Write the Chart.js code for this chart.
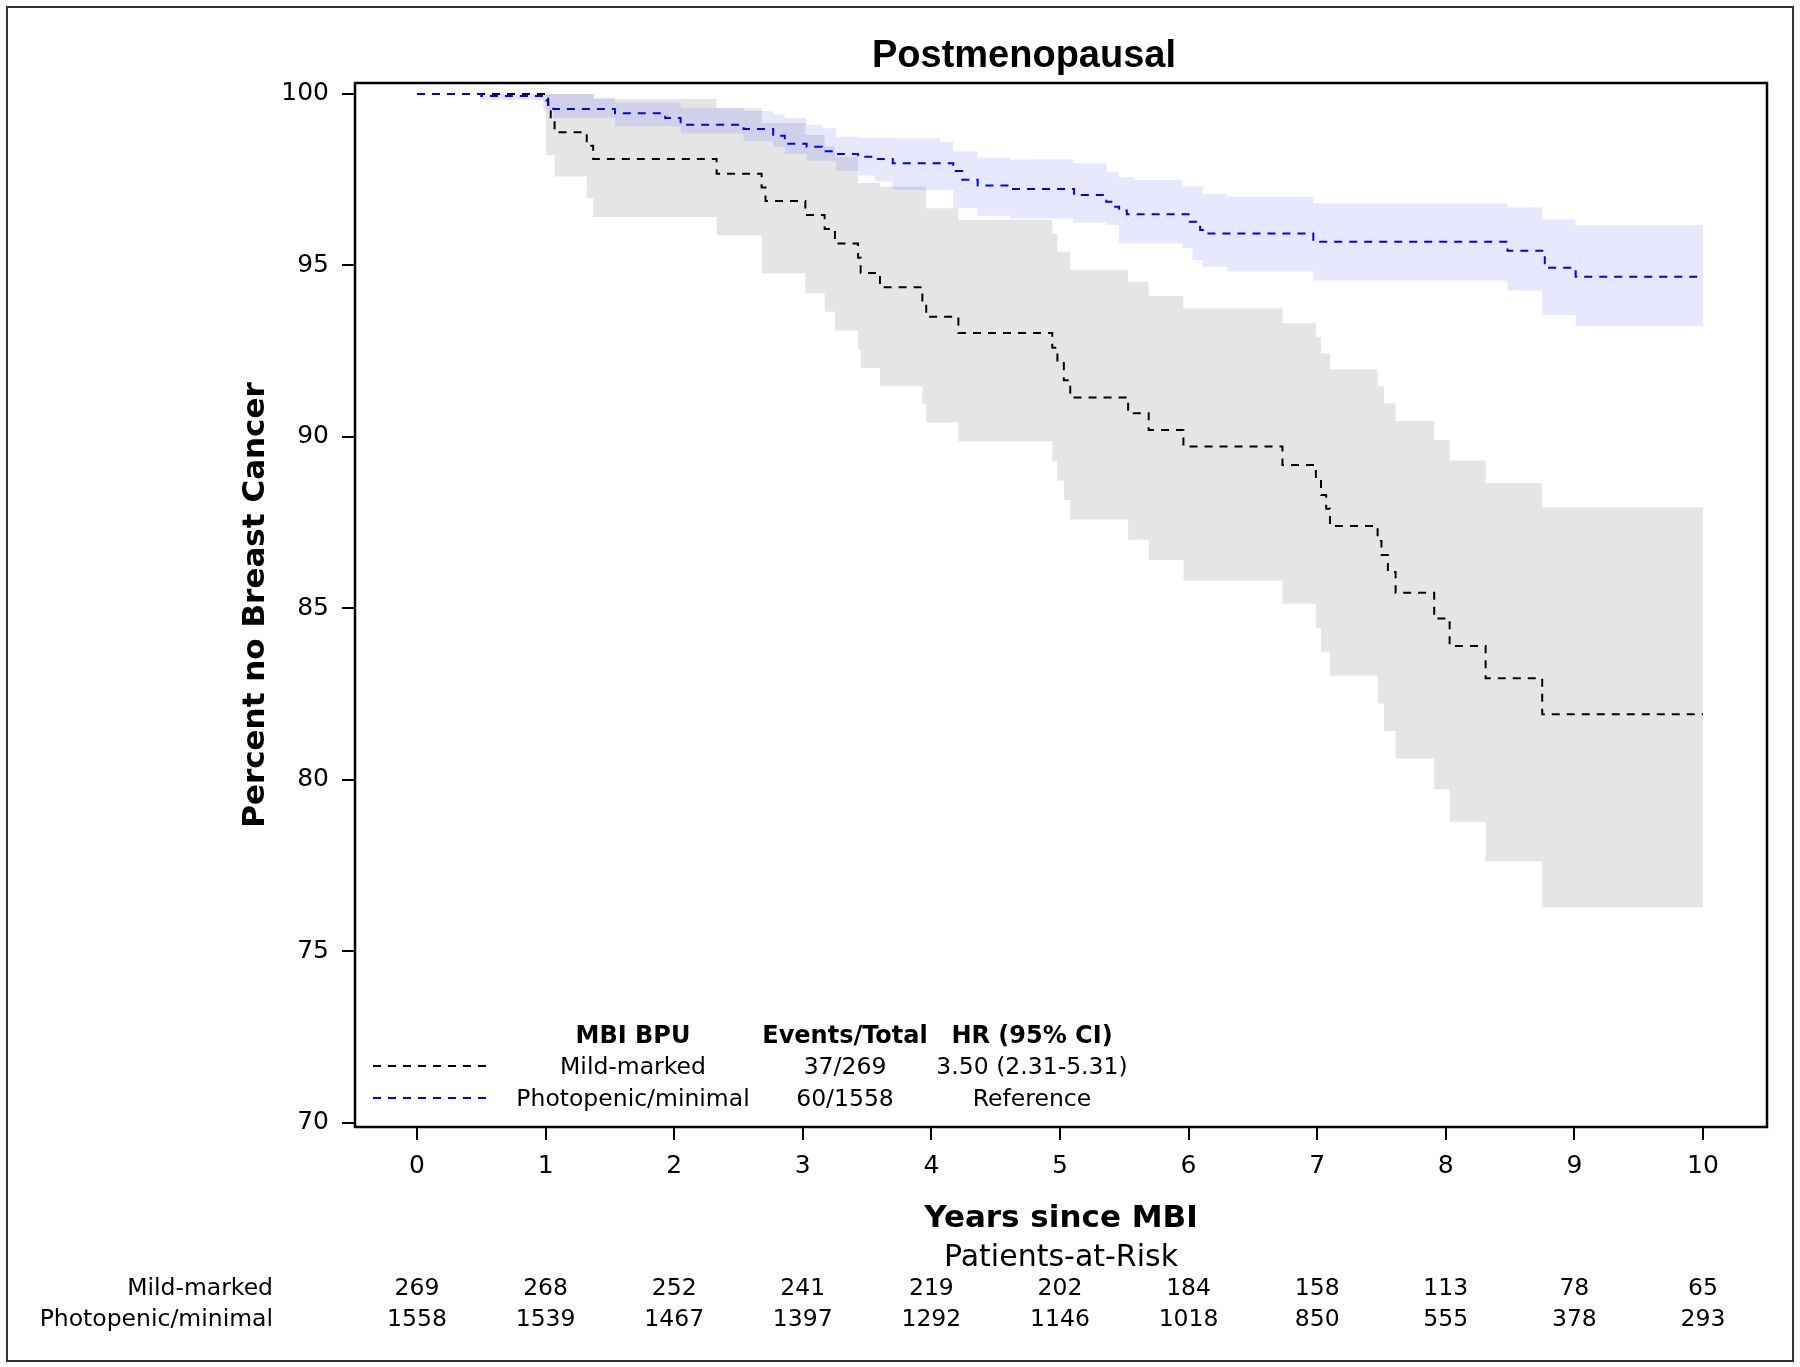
<!DOCTYPE html>
<html>
<head>
<meta charset="utf-8">
<script src="https://cdn.jsdelivr.net/npm/chart.js@4.4.1/dist/chart.umd.min.js"></script>
<style>
  html, body { margin: 0; padding: 0; background: #fff; }
  canvas { display: block; }
</style>
</head>
<body>
<canvas id="km" width="1800" height="1367"></canvas>
<script>
// Kaplan-Meier curves (years, percent free of breast cancer)
const mildT = [0, 1.02, 1.04, 1.07, 1.32, 1.37, 2.33, 2.68, 2.71, 3.02, 3.17, 3.25, 3.43, 3.45, 3.60, 3.93, 3.96, 4.21, 4.94, 4.98, 5.03, 5.08, 5.53, 5.69, 5.96, 6.73, 6.99, 7.03, 7.07, 7.10, 7.47, 7.50, 7.55, 7.61, 7.91, 8.03, 8.31, 8.75, 10];
const mildS = [100, 99.63, 99.26, 98.88, 98.49, 98.10, 97.67, 97.27, 96.88, 96.47, 96.06, 95.64, 95.22, 94.78, 94.36, 93.93, 93.50, 93.03, 92.60, 92.15, 91.65, 91.15, 90.69, 90.20, 89.72, 89.18, 88.75, 88.30, 87.90, 87.40, 86.96, 86.55, 86.06, 85.45, 84.70, 83.90, 82.96, 81.91, 81.91];

const photoT = [0, 0.50, 0.98, 1.02, 1.06, 1.54, 1.93, 2.05, 2.54, 2.77, 2.86, 3.03, 3.15, 3.26, 3.43, 3.56, 3.70, 4.17, 4.24, 4.36, 4.61, 5.11, 5.36, 5.42, 5.46, 5.52, 6.01, 6.09, 6.12, 6.97, 8.48, 8.77, 9.01, 10];
const photoS = [100, 99.94, 99.81, 99.69, 99.56, 99.44, 99.30, 99.10, 98.98, 98.78, 98.55, 98.46, 98.33, 98.25, 98.17, 98.10, 97.98, 97.75, 97.50, 97.33, 97.23, 97.05, 96.86, 96.71, 96.60, 96.49, 96.27, 96.03, 95.93, 95.69, 95.43, 94.93, 94.67, 94.67];

// 95% confidence bands
const mildBandT = [1.00, 1.07, 1.32, 1.37, 2.33, 2.68, 3.02, 3.17, 3.25, 3.43, 3.45, 3.60, 3.93, 3.96, 4.21, 4.94, 4.98, 5.03, 5.08, 5.53, 5.69, 5.96, 6.73, 6.99, 7.03, 7.10, 7.47, 7.52, 7.61, 7.91, 8.03, 8.31, 8.75, 10];
const mildUpper = [100, 100, 100, 99.85, 99.58, 99.15, 98.80, 98.46, 98.17, 97.40, 97.40, 97.30, 97.30, 96.67, 96.33, 95.93, 95.40, 95.40, 94.87, 94.52, 94.11, 93.75, 93.31, 92.92, 92.44, 91.97, 91.48, 90.98, 90.46, 89.91, 89.31, 88.65, 87.94, 87.94];
const mildLower = [98.22, 97.59, 96.96, 96.41, 95.88, 94.77, 94.19, 93.65, 93.10, 92.55, 92.01, 91.48, 90.95, 90.42, 89.87, 89.30, 88.72, 88.16, 87.59, 87.00, 86.41, 85.81, 85.13, 84.43, 83.73, 83.03, 82.22, 81.42, 80.62, 79.72, 78.77, 77.62, 76.28, 76.28];

const photoBandT = [0.50, 0.98, 1.06, 1.38, 1.54, 2.05, 2.54, 2.77, 2.86, 3.03, 3.15, 3.26, 3.43, 3.56, 3.70, 4.07, 4.17, 4.36, 4.61, 5.10, 5.36, 5.46, 5.58, 5.95, 6.03, 6.11, 6.30, 6.97, 8.48, 8.75, 9.01, 10];
const photoUpper = [100, 100, 100, 99.90, 99.75, 99.60, 99.50, 99.40, 99.30, 99.10, 99.00, 98.75, 98.72, 98.72, 98.71, 98.60, 98.32, 98.15, 98.09, 97.98, 97.73, 97.57, 97.49, 97.30, 97.30, 97.08, 97.00, 96.81, 96.69, 96.34, 96.17, 96.17];
const photoLower = [99.82, 99.55, 99.30, 99.30, 99.05, 98.85, 98.62, 98.45, 98.25, 98.05, 98.05, 97.75, 97.62, 97.45, 97.20, 97.20, 96.67, 96.45, 96.37, 96.25, 96.18, 95.64, 95.64, 95.50, 95.16, 94.96, 94.82, 94.55, 94.26, 93.55, 93.23, 93.23];

// axes
const xTicks = [0, 1, 2, 3, 4, 5, 6, 7, 8, 9, 10];
const yTicks = [70, 75, 80, 85, 90, 95, 100];

// legend table
const groups = ['Mild-marked', 'Photopenic/minimal'];
const eventsTotal = ['37/269', '60/1558'];
const hrText = ['3.50 (2.31-5.31)', 'Reference'];

// patients at risk
const riskYears = [0, 1, 2, 3, 4, 5, 6, 7, 8, 9, 10];
const mildRisk = [269, 268, 252, 241, 219, 202, 184, 158, 113, 78, 65];
const photoRisk = [1558, 1539, 1467, 1397, 1292, 1146, 1018, 850, 555, 378, 293];

const FONT = '"DejaVu Sans", sans-serif';
const DASH = [8, 7];
const pts = (xs, ys) => xs.map((x, i) => ({ x: x, y: ys[i] }));

const extras = {
  id: 'extras',
  afterDraw(chart) {
    const ctx = chart.ctx;
    const a = chart.chartArea;
    const xs = chart.scales.x;
    ctx.save();

    // plot frame
    ctx.strokeStyle = '#000';
    ctx.lineWidth = 2.5;
    ctx.setLineDash([]);
    ctx.strokeRect(a.left, a.top, a.right - a.left, a.bottom - a.top);

    // outer border
    ctx.strokeStyle = '#333';
    ctx.lineWidth = 2;
    ctx.strokeRect(7, 7, 1786, 1354);

    // title
    ctx.fillStyle = '#000';
    ctx.textBaseline = 'middle';
    ctx.textAlign = 'center';
    ctx.font = 'bold 38px "Liberation Sans", Arial, sans-serif';
    ctx.fillText('Postmenopausal', 1024, 57);

    // legend inside plot
    ctx.font = 'bold 24px ' + FONT;
    ctx.fillText('MBI BPU', 633, 1037);
    ctx.fillText('Events/Total', 845, 1037);
    ctx.fillText('HR (95% CI)', 1032, 1037);
    ctx.font = '23.5px ' + FONT;
    const rowY = [1068, 1100];
    const lineY = [1066, 1098];
    const rowColor = ['#000', '#0000ff'];
    groups.forEach((g, i) => {
      ctx.fillStyle = '#000';
      ctx.fillText(g, 633, rowY[i]);
      ctx.fillText(eventsTotal[i], 845, rowY[i]);
      ctx.fillText(hrText[i], 1032, rowY[i]);
      ctx.strokeStyle = rowColor[i];
      ctx.lineWidth = 2;
      ctx.setLineDash(DASH);
      ctx.beginPath();
      ctx.moveTo(373, lineY[i]);
      ctx.lineTo(488, lineY[i]);
      ctx.stroke();
    });
    ctx.setLineDash([]);

    // patients-at-risk table
    ctx.fillStyle = '#000';
    ctx.font = '30px ' + FONT;
    ctx.fillText('Patients-at-Risk', (a.left + a.right) / 2, 1258);
    ctx.font = '23.5px ' + FONT;
    ctx.textAlign = 'right';
    ctx.fillText(groups[0], 273, 1289);
    ctx.fillText(groups[1], 273, 1320);
    ctx.textAlign = 'center';
    riskYears.forEach((yr, i) => {
      const px = xs.getPixelForValue(yr);
      ctx.fillText(String(mildRisk[i]), px, 1289);
      ctx.fillText(String(photoRisk[i]), px, 1320);
    });
    ctx.restore();
  }
};

new Chart(document.getElementById('km'), {
  type: 'line',
  data: {
    datasets: [
      {
        label: 'Mild-marked CI upper',
        data: pts(mildBandT, mildUpper),
        stepped: true,
        borderWidth: 0,
        pointRadius: 0,
        backgroundColor: 'rgba(0,0,0,0.10)',
        fill: '+1',
        order: 3
      },
      {
        label: 'Mild-marked CI lower',
        data: pts(mildBandT, mildLower),
        stepped: true,
        borderWidth: 0,
        pointRadius: 0,
        fill: false,
        order: 3
      },
      {
        label: 'Photopenic CI upper',
        data: pts(photoBandT, photoUpper),
        stepped: true,
        borderWidth: 0,
        pointRadius: 0,
        backgroundColor: 'rgba(0,0,255,0.095)',
        fill: '+1',
        order: 2
      },
      {
        label: 'Photopenic CI lower',
        data: pts(photoBandT, photoLower),
        stepped: true,
        borderWidth: 0,
        pointRadius: 0,
        fill: false,
        order: 2
      },
      {
        label: 'Mild-marked',
        data: pts(mildT, mildS),
        stepped: true,
        borderColor: '#000',
        borderWidth: 2,
        borderDash: DASH,
        pointRadius: 0,
        fill: false,
        order: 1
      },
      {
        label: 'Photopenic/minimal',
        data: pts(photoT, photoS),
        stepped: true,
        borderColor: '#0000ff',
        borderWidth: 2,
        borderDash: DASH,
        pointRadius: 0,
        fill: false,
        order: 0
      }
    ]
  },
  options: {
    responsive: false,
    devicePixelRatio: 1,
    animation: false,
    layout: { padding: { top: 83, right: 33, bottom: 127, left: 225 } },
    plugins: {
      legend: { display: false },
      title: { display: false },
      tooltip: { enabled: false }
    },
    scales: {
      x: {
        type: 'linear',
        min: -0.482,
        max: 10.498,
        afterBuildTicks: s => { s.ticks = xTicks.map(v => ({ value: v })); },
        afterFit: s => { s.height = 113; },
        ticks: {
          color: '#000',
          font: { family: FONT, size: 25 },
          padding: 11,
          maxRotation: 0,
          autoSkip: false,
          callback: (v, i) => String(xTicks[i])
        },
        grid: { drawOnChartArea: false, drawTicks: true, tickLength: 13, color: '#000', lineWidth: 2 },
        border: { display: false },
        title: {
          display: true,
          text: 'Years since MBI',
          color: '#000',
          font: { family: FONT, size: 31, weight: 'bold' },
          padding: { top: 0, bottom: 2 }
        }
      },
      y: {
        type: 'linear',
        min: 69.87,
        max: 100.32,
        afterBuildTicks: s => { s.ticks = yTicks.map(v => ({ value: v })); },
        afterFit: s => { s.width = 130; },
        ticks: {
          color: '#000',
          font: { family: FONT, size: 25 },
          padding: 13,
          autoSkip: false,
          callback: (v, i) => String(yTicks[i])
        },
        grid: { drawOnChartArea: false, drawTicks: true, tickLength: 13, color: '#000', lineWidth: 2 },
        border: { display: false },
        title: {
          display: true,
          text: 'Percent no Breast Cancer',
          color: '#000',
          font: { family: FONT, size: 31, weight: 'bold' },
          padding: { top: 12, bottom: 0 }
        }
      }
    }
  },
  plugins: [extras]
});
</script>
</body>
</html>
